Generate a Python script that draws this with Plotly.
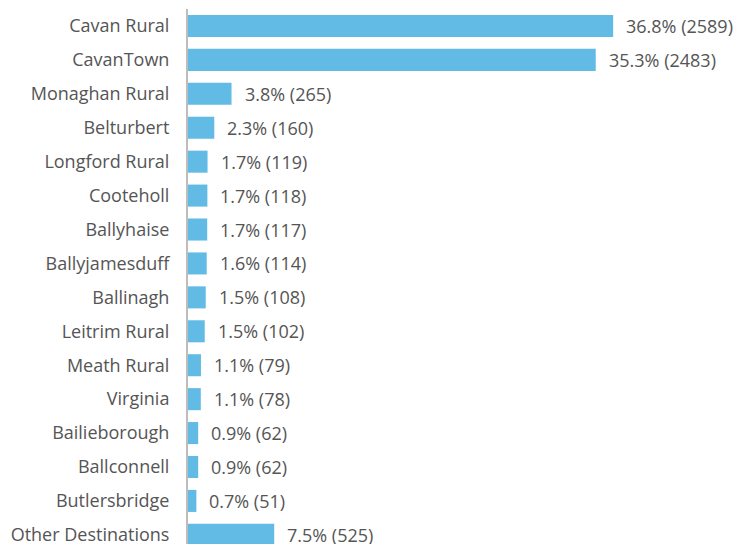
import plotly.graph_objects as go

categories = ["Cavan Rural", "CavanTown", "Monaghan Rural", "Belturbert", "Longford Rural",
              "Cooteholl", "Ballyhaise", "Ballyjamesduff", "Ballinagh", "Leitrim Rural",
              "Meath Rural", "Virginia", "Bailieborough", "Ballconnell", "Butlersbridge",
              "Other Destinations"]
counts = [2589, 2483, 265, 160, 119, 118, 117, 114, 108, 102, 79, 78, 62, 62, 51, 525]
percents = ["36.8%", "35.3%", "3.8%", "2.3%", "1.7%", "1.7%", "1.7%", "1.6%", "1.5%", "1.5%",
            "1.1%", "1.1%", "0.9%", "0.9%", "0.7%", "7.5%"]

labels = [f"{p} ({c})" for p, c in zip(percents, counts)]

FONT = "Open Sans"
TXT = "#555555"
FS = 18

fig = go.Figure(go.Bar(
    x=counts, y=categories, orientation="h",
    marker=dict(color="#62bbe5", line=dict(width=0)),
    hoverinfo="skip",
))

for c, cat, lab in zip(counts, categories, labels):
    fig.add_annotation(x=c, y=cat, text=lab, showarrow=False, xanchor="left",
                       xshift=11, font=dict(family=FONT, size=FS, color=TXT))

fig.update_layout(
    width=736, height=544,
    margin=dict(l=188, r=0, t=9, b=0, autoexpand=False),
    paper_bgcolor="white", plot_bgcolor="white",
    bargap=0.35,
    showlegend=False,
    xaxis=dict(range=[0, 3337], visible=False, fixedrange=True, automargin=False),
    yaxis=dict(categoryorder="array", categoryarray=categories, automargin=False,
               range=[15.27, -0.5], showline=True, linecolor="#bdbdbd", linewidth=2,
               showgrid=False, zeroline=False, ticks="", ticklabelstandoff=13,
               tickfont=dict(family=FONT, size=FS, color=TXT)),
)

fig.write_html("out.html", config={"displayModeBar": False},
               post_script="document.body.style.margin='0';document.body.style.overflow='hidden';")
